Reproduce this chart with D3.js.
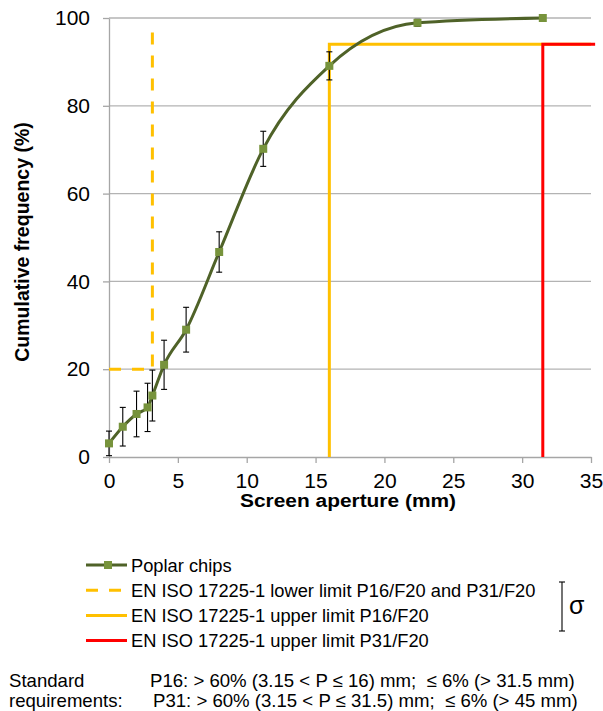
<!DOCTYPE html>
<html><head><meta charset="utf-8">
<script src="https://cdn.jsdelivr.net/npm/d3@7"></script>
<style>body{margin:0;background:#fff}svg{display:block;font-family:"Liberation Sans",Arial,sans-serif}</style>
</head><body><svg id="c" width="603" height="711"></svg>
<script>
// Data
const aperture = [0, 1, 2, 2.8, 3.15, 4, 5.6, 8, 11.2, 16, 22.4, 31.5];
const cumFreq  = [3.1, 6.9, 9.8, 11.3, 14.0, 21.0, 29.0, 46.7, 70.2, 89.1, 98.9, 100];
const sigma    = [2.8, 4.4, 5.2, 5.5, 5.8, 5.6, 5.1, 4.6, 4.0, 3.2, 0.8, 0];
const lowerLimit = [[0, 20], [3.15, 20], [3.15, 97.5]];
const upperP16   = [[16, 0], [16, 94], [35, 94]];
const upperP31   = [[31.5, 0], [31.5, 94], [35.3, 94]];
const xTicks = [0, 5, 10, 15, 20, 25, 30, 35];
const yTicks = [0, 20, 40, 60, 80, 100];
const legendLabels = ["Poplar chips",
  "EN ISO 17225-1 lower limit P16/F20 and P31/F20",
  "EN ISO 17225-1 upper limit P16/F20",
  "EN ISO 17225-1 upper limit P31/F20"];
const reqLabels = ["Standard", "requirements:"];
const reqTexts = ["P16: > 60% (3.15 < P \u2264 16) mm;  \u2264 6% (> 31.5 mm)",
                  "P31: > 60% (3.15 < P \u2264 31.5) mm;  \u2264 6% (> 45 mm)"];

const svg = d3.select("#c");
const x = d3.scaleLinear().domain([0, 35]).range([109, 591]);
const y = d3.scaleLinear().domain([0, 100]).range([457, 18]);

const green = "#4F6228", marker = "#77933C", gold = "#FFC000", red = "#FF0000", grid = "#B3B3B3";

// gridlines
svg.append("g").selectAll("line").data(yTicks.filter(d => d > 0)).join("line")
  .attr("x1", x(0)).attr("x2", x(35)).attr("y1", d => y(d)).attr("y2", d => y(d))
  .attr("stroke", grid).attr("stroke-width", 1.3);

// axes
const xAxis = svg.append("g").attr("transform", `translate(0,${y(0)})`)
  .call(d3.axisBottom(x).tickValues(xTicks).tickSize(6).tickSizeOuter(0).tickPadding(11));
const yAxis = svg.append("g").attr("transform", `translate(${x(0)},0)`)
  .call(d3.axisLeft(y).tickValues(yTicks).tickSize(6).tickSizeOuter(0).tickPadding(13));
[xAxis, yAxis].forEach(a => {
  a.select(".domain").attr("stroke", "#A6A6A6").attr("stroke-width", 1.3);
  a.selectAll(".tick line").attr("stroke", "#A6A6A6").attr("stroke-width", 1.3);
  a.selectAll("text").attr("fill", "#000")
    .attr("font-family", '"Liberation Sans",Arial,sans-serif');
});
yAxis.selectAll("text").attr("font-size", 21);
xAxis.selectAll("text").attr("font-size", 19.5).attr("transform", "scale(1.08,1)");

// limit lines
const lim = d3.line().x(d => x(d[0])).y(d => y(d[1]));
svg.append("path").attr("d", lim(lowerLimit)).attr("fill", "none").attr("stroke", gold)
  .attr("stroke-width", 3).attr("stroke-dasharray", "12,11");
svg.append("path").attr("d", lim(upperP16)).attr("fill", "none").attr("stroke", gold).attr("stroke-width", 3);
svg.append("path").attr("d", lim(upperP31)).attr("fill", "none").attr("stroke", red).attr("stroke-width", 3);

// data curve
const pts = aperture.map((a, i) => ({x: a, y: cumFreq[i], s: sigma[i]}));
const line = d3.line().x(d => x(d.x)).y(d => y(d.y)).curve(d3.curveMonotoneX);
svg.append("path").attr("d", line(pts)).attr("fill", "none").attr("stroke", green).attr("stroke-width", 3);

// error bars
const eb = svg.append("g").attr("stroke", "#000").attr("stroke-width", 1.1);
pts.filter(d => d.s > 0).forEach(d => {
  eb.append("line").attr("x1", x(d.x)).attr("x2", x(d.x)).attr("y1", y(d.y - d.s)).attr("y2", y(d.y + d.s));
  [d.y - d.s, d.y + d.s].forEach(v => eb.append("line").attr("x1", x(d.x) - 3).attr("x2", x(d.x) + 3)
    .attr("y1", y(v)).attr("y2", y(v)));
});

// markers
svg.append("g").selectAll("rect").data(pts).join("rect")
  .attr("x", d => x(d.x) - 4).attr("y", d => y(d.y) - 4).attr("width", 8).attr("height", 8)
  .attr("fill", marker);

// axis titles
svg.append("text").attr("transform", "translate(348,507) scale(1.1,1)").attr("text-anchor", "middle")
  .attr("font-size", 19).attr("font-weight", "bold").text("Screen aperture (mm)");
svg.append("text").attr("transform", "translate(29,242) rotate(-90)").attr("text-anchor", "middle")
  .attr("font-size", 19.5).attr("font-weight", "bold").text("Cumulative frequency (%)");

// legend
const lg = svg.append("g");
const styles = [{c: green, dash: null}, {c: gold, dash: "12,11"}, {c: gold, dash: null}, {c: red, dash: null}];
legendLabels.forEach((t, i) => {
  const yy = 565 + i * 25.2;
  lg.append("line").attr("x1", 86).attr("x2", 127).attr("y1", yy).attr("y2", yy)
    .attr("stroke", styles[i].c).attr("stroke-width", 3).attr("stroke-dasharray", styles[i].dash);
  if (i === 0) lg.append("rect").attr("x", 104).attr("y", yy - 4).attr("width", 8).attr("height", 8).attr("fill", marker);
  lg.append("text").attr("x", 131).attr("y", yy + 6.5).attr("font-size", 18.3).text(t);
});

// sigma indicator
const sg = svg.append("g").attr("stroke", "#000").attr("stroke-width", 1.1);
sg.append("line").attr("x1", 562).attr("x2", 562).attr("y1", 582).attr("y2", 631);
sg.append("line").attr("x1", 559).attr("x2", 565).attr("y1", 582).attr("y2", 582);
sg.append("line").attr("x1", 559).attr("x2", 565).attr("y1", 631).attr("y2", 631);
svg.append("text").attr("x", 569).attr("y", 614).attr("font-size", 25).text("\u03c3");

// standard requirements
reqLabels.forEach((t, i) => svg.append("text").attr("x", 9).attr("y", 687 + i * 20).attr("font-size", 18.6).text(t));
reqTexts.forEach((t, i) => svg.append("text").attr("x", i === 0 ? 150 : 153).attr("y", 687 + i * 20)
  .attr("font-size", 18.6).style("white-space", "pre").text(t));
</script></body></html>
